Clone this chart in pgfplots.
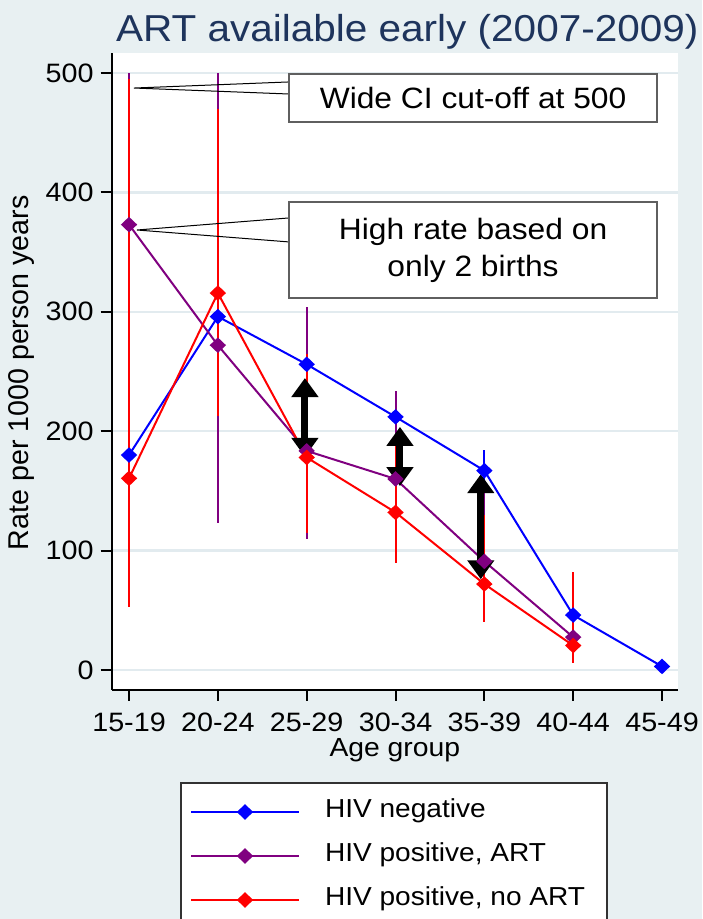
\documentclass[border=0pt]{standalone}
\usepackage{fontspec}
\setmainfont{Liberation Sans}[FakeStretch=1.08]
\newfontfamily\ylabfont{Liberation Sans}
\usepackage{pgfplots}
\usepackage{pgfplotstable}
\pgfplotsset{compat=1.18}
\usetikzlibrary{arrows.meta}

\definecolor{bgcol}{RGB}{232,240,242}
\definecolor{gridcol}{RGB}{226,235,239}
\definecolor{titlecol}{RGB}{30,52,92}
\definecolor{hivneg}{RGB}{0,0,255}
\definecolor{hivart}{RGB}{128,0,128}
\definecolor{hivnoart}{RGB}{255,0,0}
\definecolor{boxedge}{RGB}{95,95,95}
\definecolor{legedge}{RGB}{50,50,50}

% rate per 1000 person years, with CI bounds (cut off at 500)
\pgfplotstableread{
x y lo hi
0 180 165 196
1 296 280 312
2 256 241 271
3 212 195 229
4 167 150 184
5 46 36 58
6 3 0 7
}\negtab
\pgfplotstableread{
x y lo hi
0 373 60 500
1 272 123 500
2 183.5 110 304
3 160 100 234
4 91 50 158
5 27.5 10 70
}\arttab
\pgfplotstableread{
x y lo hi
0 160.5 53 495
1 315.7 213 470
2 178 115 265
3 132 90 194
4 72 40 130
5 20.5 6 82
}\noarttab

\begin{document}
\begin{tikzpicture}
\fill[bgcol,use as bounding box] (0,0) rectangle (351pt,459.5pt);
\clip (0,0) rectangle (351pt,459.5pt);
\begin{axis}[
  at={(55.85pt,114.5pt)}, anchor=south west,
  scale only axis, width=283.15pt, height=318.5pt,
  xmin=-0.195, xmax=6.18, ymin=-16.75, ymax=516.75,
  axis lines*=left,
  axis line style={black, line width=1pt},
  axis background/.style={fill=white},
  tick align=outside, major tick length=5.5pt,
  tick style={black, line width=1pt},
  xtick={0,1,2,3,4,5,6},
  xticklabels={15-19,20-24,25-29,30-34,35-39,40-44,45-49},
  ytick={0,100,200,300,400,500},
  ymajorgrids, grid style={gridcol, line width=1.2pt},
  /pgf/number format/assume math mode=true,
  ticklabel style={font=\fontsize{13.3}{15}\selectfont},
  xticklabel style={yshift=-2.5pt},
  title={ART available early (2007-2009)},
  title style={at={(axis description cs:0.522,1.0228)}, anchor=base, yshift=-7.5pt,
    font=\fontsize{18.75}{21}\selectfont, text=titlecol},
  xlabel={Age group},
  xlabel style={at={(axis description cs:0.5,-0.105)}, anchor=base,
    font=\fontsize{13.1}{15}\selectfont},
  ylabel={Rate per 1000 person years},
  ylabel style={at={(axis description cs:-0.159,0.498)}, anchor=center, rotate=0,
    font=\ylabfont\fontsize{14.3}{16}\selectfont},
  legend cell align=left,
  legend image code/.code={\draw[mark repeat=2,mark phase=2] plot coordinates {(0pt,0pt)(27pt,0pt)(54pt,0pt)};},
  legend style={at={(axis description cs:0.1206,-0.1444)}, anchor=north west,
    draw=legedge, line width=1pt, fill=white,
    inner xsep=4.5pt, inner ysep=8pt, row sep=9pt, column sep=8pt,
    font=\fontsize{13}{15}\selectfont,
    nodes={inner ysep=0pt, inner xsep=4.5pt, text height=9.5pt, text depth=3.5pt}},
]
% confidence intervals
\addplot[only marks, mark=none, forget plot,
  error bars/.cd, y dir=both, y explicit, error mark=none,
  error bar style={hivneg, line width=1pt}]
  table[x=x, y=y, y error plus expr=\thisrow{hi}-\thisrow{y}, y error minus expr=\thisrow{y}-\thisrow{lo}] {\negtab};
\addplot[only marks, mark=none, forget plot,
  error bars/.cd, y dir=both, y explicit, error mark=none,
  error bar style={hivart, line width=1pt}]
  table[x=x, y=y, y error plus expr=\thisrow{hi}-\thisrow{y}, y error minus expr=\thisrow{y}-\thisrow{lo}] {\arttab};
\addplot[only marks, mark=none, forget plot,
  error bars/.cd, y dir=both, y explicit, error mark=none,
  error bar style={hivnoart, line width=1pt}]
  table[x=x, y=y, y error plus expr=\thisrow{hi}-\thisrow{y}, y error minus expr=\thisrow{y}-\thisrow{lo}] {\noarttab};

% rates
\addplot[hivneg, line width=1pt, mark=diamond*, mark size=3.2pt, mark options={xscale=1.4}]
  table[x=x, y=y] {\negtab};
\addlegendentry{\makebox[132pt][l]{HIV negative}}
\addplot[hivart, line width=1pt, mark=diamond*, mark size=3.2pt, mark options={xscale=1.4}]
  table[x=x, y=y] {\arttab};
\addlegendentry{\makebox[132pt][l]{HIV positive, ART}}
\addplot[hivnoart, line width=1pt, mark=diamond*, mark size=3.2pt, mark options={xscale=1.4}]
  table[x=x, y=y] {\noarttab};
\addlegendentry{\makebox[132pt][l]{HIV positive, no ART}}

% gap arrows
\addplot[black, line width=3.5pt, forget plot,
  {Triangle[width=13pt,length=9.5pt]}-{Triangle[width=13pt,length=9.5pt]}]
  coordinates {(1.98,178.5) (1.98,244.5)};
\addplot[black, line width=3.5pt, forget plot,
  {Triangle[width=13pt,length=9.5pt]}-{Triangle[width=13pt,length=9.5pt]}]
  coordinates {(3.05,154) (3.05,203.6)};
\addplot[black, line width=3.5pt, forget plot,
  {Triangle[width=13pt,length=9.5pt]}-{Triangle[width=13pt,length=9.5pt]}]
  coordinates {(3.96,76) (3.96,164)};

% callouts
\draw[black, line width=0.5pt] (axis cs:1.801,492.5) -- (axis cs:0.056,487.4) -- (axis cs:1.801,482.4);
\node[draw=boxedge, line width=0.75pt, fill=white, minimum width=184pt, minimum height=24pt,
  inner sep=0pt, font=\fontsize{14.7}{17}\selectfont] at (axis cs:3.873,479) {Wide CI cut-off at 500};
\draw[black, line width=0.5pt] (axis cs:1.801,378.6) -- (axis cs:0.09,368.5) -- (axis cs:1.801,358.5);
\node[draw=boxedge, line width=0.75pt, fill=white, minimum width=184pt, minimum height=48pt,
  inner sep=0pt, align=center, font=\fontsize{14.7}{18.5}\selectfont] at (axis cs:3.873,351.8)
  {High rate based on\\only 2 births};
\end{axis}
\end{tikzpicture}
\end{document}
